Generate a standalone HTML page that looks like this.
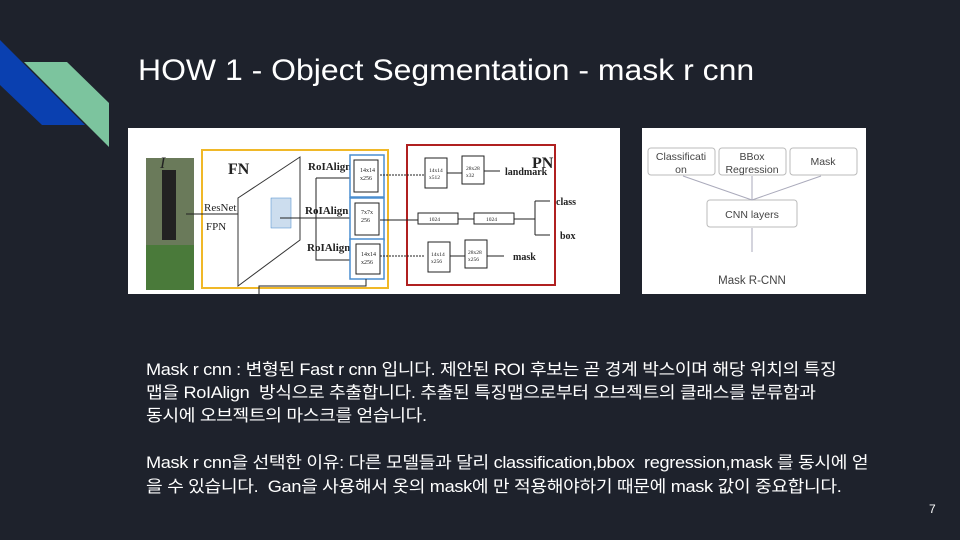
<!DOCTYPE html>
<html><head><meta charset="utf-8"><style>
body{margin:0;width:960px;height:540px;background:#1e222c;position:relative;overflow:hidden;font-family:"Liberation Sans","Noto Sans CJK KR",sans-serif;color:#fff}
.t{position:absolute;white-space:nowrap;transform-origin:0 0}
.b{font-size:16.5px;left:146px;letter-spacing:-0.3px;transform:scaleX(1.1)}
</style></head><body>
<svg width="960" height="540" style="position:absolute;left:0;top:0">
<polygon points="0,40 85,125 42,125 0,85" fill="#0a40b0"/>
<polygon points="24,62 67,62 109,103 109,147" fill="#7cc49e"/>
<rect x="128" y="128" width="492" height="166" fill="#fff"/>
<rect x="642" y="128" width="224" height="166" fill="#fff"/>
<rect x="146" y="158" width="48" height="132" fill="#6a7a5a"/>
<rect x="146" y="245" width="48" height="45" fill="#4a7a3a"/>
<rect x="162" y="170" width="14" height="70" fill="#222"/>
<text x="160" y="168" font-family="Liberation Serif" font-style="italic" font-size="16" fill="#222">I</text>
<rect x="202" y="150" width="186" height="138" fill="none" stroke="#f0b828" stroke-width="2"/>
<text x="228" y="174" font-family="Liberation Serif" font-weight="bold" font-size="16" fill="#222">FN</text>
<text x="204" y="211" font-family="Liberation Serif" font-size="11" fill="#222">ResNet</text>
<text x="206" y="230" font-family="Liberation Serif" font-size="11" fill="#222">FPN</text>
<line x1="186" y1="214" x2="238" y2="214" stroke="#222"/>
<polygon points="238,198 300,157 300,240 238,286" fill="#fff" stroke="#333"/>
<rect x="271" y="198" width="20" height="30" fill="#cde" stroke="#48c" stroke-width="0.5"/>
<text x="308" y="170" font-family="Liberation Serif" font-weight="bold" font-size="11" fill="#222">RoIAlign</text>
<text x="305" y="214" font-family="Liberation Serif" font-weight="bold" font-size="11" fill="#222">RoIAlign</text>
<text x="307" y="251" font-family="Liberation Serif" font-weight="bold" font-size="11" fill="#222">RoIAlign</text>
<path d="M316,178 V260 H350 M316,178 H350" fill="none" stroke="#222"/>
<line x1="280" y1="218" x2="350" y2="218" stroke="#222"/>
<g fill="#fff" stroke="#222">
<rect x="350" y="155" width="34" height="42" stroke="#4a8ed0" stroke-width="1.5"/>
<rect x="350" y="198" width="34" height="42" stroke="#4a8ed0" stroke-width="1.5"/>
<rect x="350" y="239" width="34" height="40" stroke="#4a8ed0" stroke-width="1.5"/>
<rect x="354" y="160" width="24" height="32"/>
<rect x="355" y="203" width="24" height="32"/>
<rect x="356" y="244" width="24" height="30"/>
</g>
<g font-family="Liberation Serif" font-size="6" fill="#222">
<text x="360" y="172">14x14</text><text x="360" y="180">x256</text>
<text x="361" y="214">7x7x</text><text x="361" y="222">256</text>
<text x="361" y="256">14x14</text><text x="361" y="264">x256</text>
</g>
<path d="M366,279 V286 H259 V294" fill="none" stroke="#222"/>
<rect x="407" y="145" width="148" height="140" fill="none" stroke="#b02020" stroke-width="2"/>
<text x="532" y="168" font-family="Liberation Serif" font-weight="bold" font-size="16" fill="#222">PN</text>
<g stroke="#222" fill="#fff">
<line x1="380" y1="175" x2="424" y2="175" stroke-dasharray="2,1"/>
<line x1="380" y1="256" x2="424" y2="256" stroke-dasharray="2,1"/>
<line x1="380" y1="220" x2="418" y2="220"/>
<rect x="425" y="158" width="22" height="30"/><rect x="462" y="156" width="22" height="28"/>
<rect x="428" y="242" width="22" height="30"/><rect x="465" y="240" width="22" height="28"/>
<rect x="418" y="213" width="40" height="11"/><rect x="474" y="213" width="40" height="11"/>
<line x1="447" y1="173" x2="462" y2="173"/><line x1="484" y1="171" x2="500" y2="171"/>
<line x1="450" y1="256" x2="465" y2="256"/><line x1="487" y1="256" x2="504" y2="256"/>
<line x1="458" y1="219" x2="474" y2="219"/><line x1="514" y1="219" x2="535" y2="219"/>
<path d="M535,201 V235 M535,201 H550 M535,235 H550" fill="none"/>
</g>
<g font-family="Liberation Serif" font-size="5.5" fill="#222">
<text x="429" y="172">14x14</text><text x="429" y="179">x512</text>
<text x="466" y="170">28x28</text><text x="466" y="177">x32</text>
<text x="431" y="256">14x14</text><text x="431" y="263">x256</text>
<text x="468" y="254">28x28</text><text x="468" y="261">x256</text>
<text x="429" y="221">1024</text><text x="486" y="221">1024</text>
</g>
<g font-family="Liberation Serif" font-weight="bold" font-size="10" fill="#222">
<text x="505" y="175">landmark</text><text x="556" y="205">class</text>
<text x="560" y="239">box</text><text x="513" y="260">mask</text>
</g>
<g fill="#fff" stroke="#bbb" stroke-width="1">
<rect x="648" y="148" width="67" height="27" rx="3"/>
<rect x="719" y="148" width="67" height="27" rx="3"/>
<rect x="790" y="148" width="67" height="27" rx="3"/>
<rect x="707" y="200" width="90" height="27" rx="3"/>
</g>
<g stroke="#aab" fill="none">
<line x1="752" y1="200" x2="683" y2="176"/><line x1="752" y1="200" x2="752" y2="176"/><line x1="752" y1="200" x2="821" y2="176"/>
<line x1="752" y1="252" x2="752" y2="228"/>
</g>
<g font-family="Liberation Sans" font-size="10.5" fill="#444" text-anchor="middle">
<text x="681" y="160">Classificati</text><text x="681" y="173">on</text>
<text x="752" y="160">BBox</text><text x="752" y="173">Regression</text>
<text x="823" y="165">Mask</text>
<text x="752" y="218">CNN layers</text>
<text x="752" y="284" font-size="11.5">Mask R-CNN</text>
</g>
</svg>
<div class="t" style="left:138px;top:54px;font-size:30px;transform:scaleX(1.065)">HOW 1 - Object Segmentation - mask r cnn</div>
<div class="t b" style="top:356px">Mask r cnn : 변형된 Fast r cnn 입니다. 제안된 ROI 후보는 곧 경계 박스이며 해당 위치의 특징</div>
<div class="t b" style="top:379px">맵을 RoIAlign&nbsp; 방식으로 추출합니다. 추출된 특징맵으로부터 오브젝트의 클래스를 분류함과</div>
<div class="t b" style="top:402px">동시에 오브젝트의 마스크를 얻습니다.</div>
<div class="t b" style="top:449px">Mask r cnn을 선택한 이유: 다른 모델들과 달리 classification,bbox&nbsp; regression,mask 를 동시에 얻</div>
<div class="t b" style="top:473px">을 수 있습니다.&nbsp; Gan을 사용해서 옷의 mask에 만 적용해야하기 때문에 mask 값이 중요합니다.</div>
<div class="t" style="left:929px;top:502px;font-size:12px">7</div>
</body></html>
